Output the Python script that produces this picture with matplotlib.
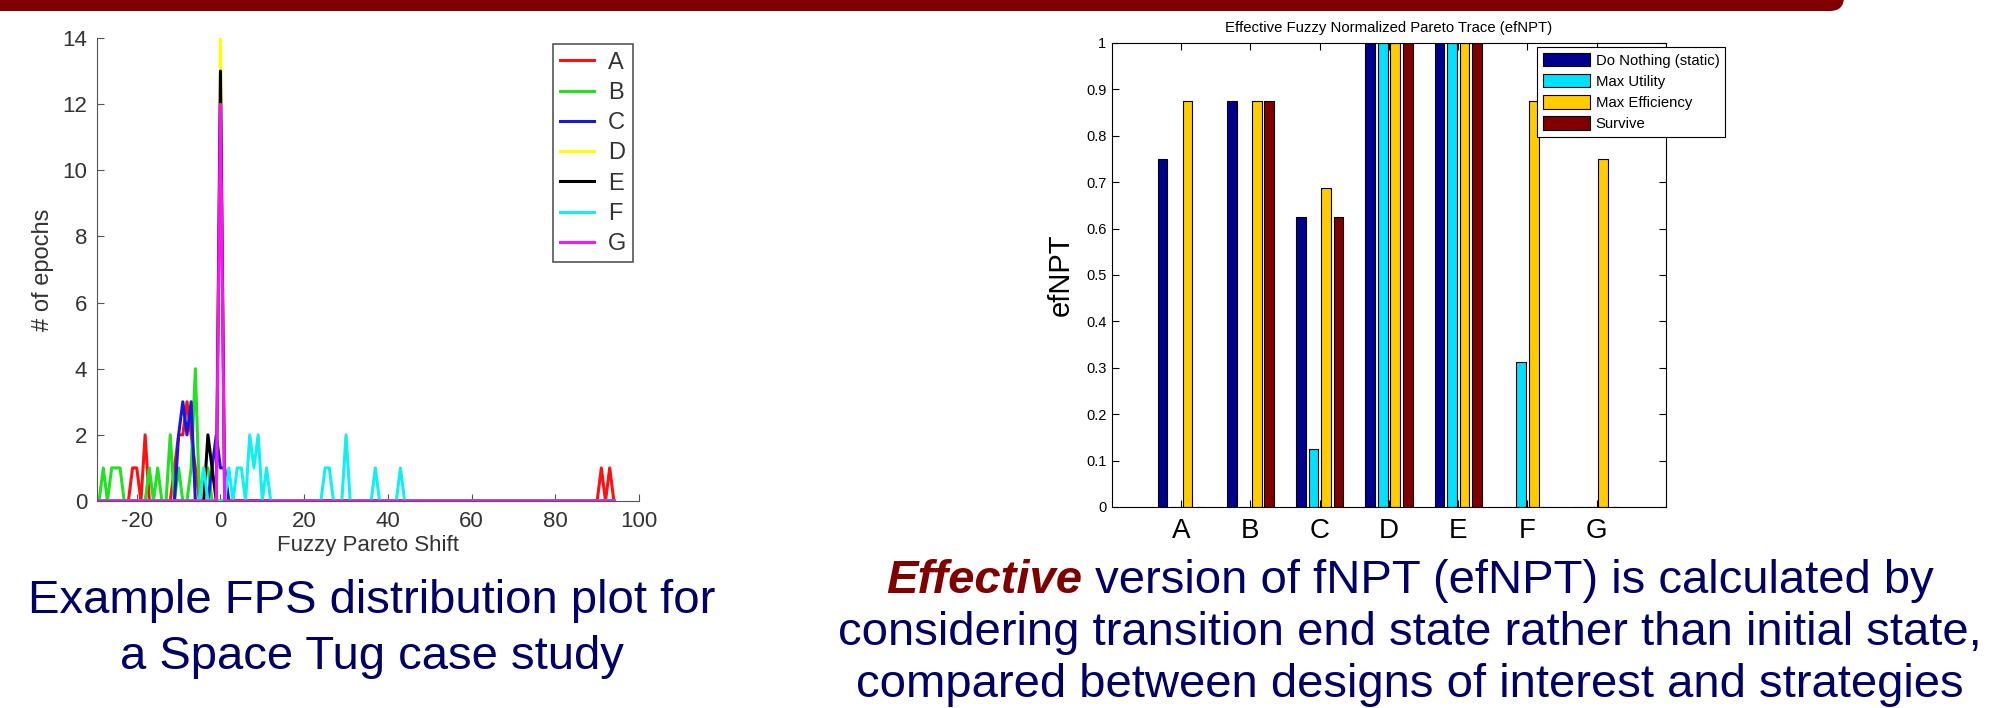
import numpy as np
import matplotlib
matplotlib.use('Agg')
import matplotlib.pyplot as plt
from matplotlib.patches import FancyBboxPatch
from matplotlib.transforms import IdentityTransform

plt.rcParams['font.family'] = ['Liberation Sans', 'DejaVu Sans']
plt.rcParams['axes.unicode_minus'] = False

## Left chart: FPS histogram, count per integer shift bin (zero elsewhere)
fps_bins = np.arange(-29, 95)
design_names = ['A', 'B', 'C', 'D', 'E', 'F', 'G']
a_shift = [-21, -20, -18, -11, -10, -9, -8, -7, -6, 91, 93]
a_count = [1, 1, 2, 1, 2, 2, 3, 2, 1, 1, 1]
b_shift = [-28, -26, -25, -24, -17, -15, -12, -10, -7, -6, -4, -3]
b_count = [1, 1, 1, 1, 1, 1, 2, 1, 1, 4, 1, 1]
c_shift = [-10, -9, -8, -7, -2, -1, 0, 1]
c_count = [2, 3, 2, 3, 1, 2, 1, 1]
d_shift = [0]
d_count = [14]
e_shift = [-3, -2, 0]
e_count = [2, 1, 13]
f_shift = [-4, 2, 4, 5, 7, 8, 9, 11, 25, 26, 30, 37, 43]
f_count = [1, 1, 1, 1, 2, 1, 2, 1, 1, 1, 2, 1, 1]
g_shift = [0]
g_count = [12]
line_colors = ['#ff1010', '#22e022', '#1818e0', '#ffff00', '#000000',
               '#10f0f0', '#ff10ff']

## Right chart: effective fuzzy normalized Pareto trace
strategies = ['Do Nothing (static)', 'Max Utility', 'Max Efficiency', 'Survive']
do_nothing = [0.75, 0.875, 0.625, 1.0, 1.0, 0.0, 0.0]
max_utility = [0.0, 0.0, 0.125, 1.0, 1.0, 0.3125, 0.0]
max_efficiency = [0.875, 0.875, 0.6875, 1.0, 1.0, 0.875, 0.75]
survive = [0.0, 0.875, 0.625, 1.0, 1.0, 0.0, 0.0]
bar_colors = ['#00008f', '#00e0ff', '#ffcc00', '#800000']

navy = '#000066'
W, H = 2006, 708

def hist_counts(shift, count):
    y = np.zeros(len(fps_bins))
    y[np.searchsorted(fps_bins, shift)] = count
    return y

fig = plt.figure(figsize=(W/100, H/100), dpi=100)

## Slide header band
band = FancyBboxPatch((-40, H-11), 1884, 60,
                      boxstyle='round,pad=0,rounding_size=14',
                      transform=IdentityTransform(), facecolor='#800000',
                      edgecolor='none')
fig.add_artist(band)

## Left plot
ax1 = fig.add_axes([97/W, 1-501/H, (639-97)/W, (501-38)/H])
series = [(a_shift, a_count), (b_shift, b_count), (c_shift, c_count),
          (d_shift, d_count), (e_shift, e_count), (f_shift, f_count),
          (g_shift, g_count)]
for name, (s, c), col in zip(design_names, series, line_colors):
    ax1.plot(fps_bins, hist_counts(s, c), color=col, lw=2.2, label=name)
ax1.set_xlim(-29.5, 100)
ax1.set_ylim(0, 14)
ax1.set_xticks([-20, 0, 20, 40, 60, 80, 100])
ax1.set_yticks(range(0, 15, 2))
for side in ['top', 'right']:
    ax1.spines[side].set_visible(False)
for side in ['left', 'bottom']:
    ax1.spines[side].set_color('#555555')
ax1.tick_params(direction='in', length=5, labelsize=16, colors='#555555',
                labelcolor='#333333', pad=7)
ax1.set_xlabel('Fuzzy Pareto Shift', fontsize=16, color='#333333', labelpad=2)
ax1.set_ylabel('# of epochs', fontsize=17, color='#333333', labelpad=6)
leg1 = ax1.legend(loc='upper left', bbox_to_anchor=(0.842, 0.986),
                  borderaxespad=0, fontsize=17, fancybox=False,
                  edgecolor='#555555', framealpha=1, handlelength=1.4,
                  handletextpad=0.6, labelspacing=0.35, borderpad=0.3)
leg1.get_frame().set_linewidth(1.2)
for txt in leg1.get_texts():
    txt.set_color('#333333')

## Right plot
ax2 = fig.add_axes([1112/W, 1-507/H, (1666-1112)/W, (507-43)/H])
x = np.arange(1, len(design_names) + 1)
for i, (vals, col, lab) in enumerate(zip(
        [do_nothing, max_utility, max_efficiency, survive], bar_colors,
        strategies)):
    ax2.bar(x + (i - 1.5)*0.18, vals, width=0.142, color=col,
            edgecolor='black', linewidth=0.8, label=lab)
ax2.set_xlim(0, 8)
ax2.set_ylim(0, 1)
ax2.set_xticks(x)
ax2.set_xticklabels(design_names, fontsize=20)
ax2.set_yticks(np.arange(0, 1.01, 0.1))
ax2.set_yticklabels(['0'] + ['%.1f' % v for v in np.arange(0.1, 0.95, 0.1)]
                    + ['1'], fontsize=10.5)
ax2.tick_params(direction='in', length=5, top=True, right=True)
ax2.tick_params(axis='y', pad=4)
ax2.tick_params(axis='x', pad=8)
ax2.set_ylabel('efNPT', fontsize=21, labelpad=8)
ax2.set_title('Effective Fuzzy Normalized Pareto Trace (efNPT)',
              fontsize=10.7, pad=8)
leg2 = ax2.legend(loc='upper left', bbox_to_anchor=(1537/W, 1-47/H),
                  bbox_transform=fig.transFigure, borderaxespad=0,
                  fontsize=10.7, fancybox=False, edgecolor='black',
                  framealpha=1, handlelength=3.15, handleheight=1.0,
                  handletextpad=0.4, labelspacing=0.43, borderpad=0.4)
leg2.get_frame().set_linewidth(0.8)

## Captions
fs = 34
fig.text(372/W, 1-613/H, 'Example FPS distribution plot for', fontsize=fs,
         color=navy, ha='center', va='baseline')
fig.text(372/W, 1-669/H, 'a Space Tug case study', fontsize=fs,
         color=navy, ha='center', va='baseline')

renderer = fig.canvas.get_renderer()
cx = 1410
t_eff = fig.text(0, 1-593/H, 'Effective', fontsize=fs, color='#800000',
                 fontweight='bold', fontstyle='italic', va='baseline')
t_rest = fig.text(0, 1-593/H, ' version of fNPT (efNPT) is calculated by',
                  fontsize=fs, color=navy, va='baseline')
w1 = t_eff.get_window_extent(renderer).width
w2 = t_rest.get_window_extent(renderer).width
x0 = cx - (w1 + w2)/2
t_eff.set_x(x0/W)
t_rest.set_x((x0 + w1)/W)
fig.text(cx/W, 1-645/H,
         'considering transition end state rather than initial state,',
         fontsize=fs, color=navy, ha='center', va='baseline')
fig.text(cx/W, 1-697/H,
         'compared between designs of interest and strategies',
         fontsize=fs, color=navy, ha='center', va='baseline')

fig.savefig('out.png', dpi=100)
